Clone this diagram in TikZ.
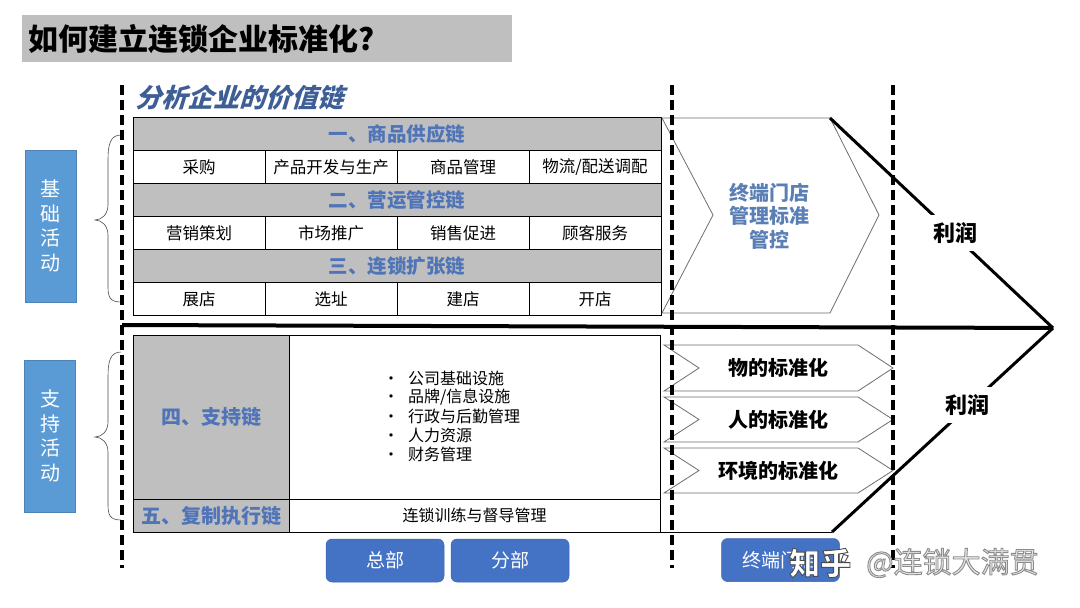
\documentclass[tikz,border=0pt]{standalone}
\usepackage{fontspec}
\setmainfont{Noto Sans CJK SC}
\newfontfamily\slantfont[FakeSlant=0.3]{Noto Sans CJK SC}
\definecolor{titlegray}{HTML}{BFBFBF}
\definecolor{headgray}{HTML}{BFBFBF}
\definecolor{headblue}{HTML}{4F74B8}
\definecolor{subblue}{HTML}{3E5E96}
\definecolor{chevblue}{HTML}{5A7FB5}
\definecolor{sideblue}{HTML}{5B9BD5}
\definecolor{btnblue}{HTML}{4472C4}
\definecolor{chevgray}{HTML}{6E6E6E}
\newcommand\outlinetext[2]{\special{pdf:literal direct 2 Tr 0.9 w #1 G}#2\special{pdf:literal direct 0 Tr}}
\tikzset{
  cell/.style={draw=black, line width=0.9pt, fill=white, minimum width=132pt, minimum height=33pt, inner sep=0pt, outer sep=0pt, font=\fontsize{16.5}{19}\selectfont},
  head/.style={draw=black, line width=0.9pt, fill=headgray, minimum width=528pt, minimum height=33pt, inner sep=0pt, outer sep=0pt, text=headblue, font=\bfseries\fontsize{19.5}{22}\selectfont},
  sidebox/.style={fill=sideblue, draw=sideblue!85!black, line width=0.6pt, minimum width=51pt, minimum height=152pt, inner sep=0pt, text=white, align=center, font=\fontsize{20}{24.5}\selectfont},
  button/.style={fill=btnblue, draw=btnblue!90!black, line width=0.5pt, rounded corners=6pt, minimum width=118pt, minimum height=43pt, inner sep=0pt, text=white, font=\fontsize{19}{22}\selectfont},
  vdash/.style={line width=3.2pt, dash pattern=on 10pt off 5pt},
  chev/.style={draw=chevgray, line width=0.8pt, fill=white},
  chevtxt/.style={font=\bfseries\fontsize{20}{23}\selectfont, text=black},
  profitline/.style={line width=3pt},
  profitlbl/.style={fill=white, inner sep=7pt, font=\bfseries\fontsize{22}{24}\selectfont},
  bul/.style={anchor=west, inner sep=0pt, font=\fontsize{16}{18}\selectfont},
  brace/.style={draw=black!70, line width=0.6pt},
}
\begin{document}
\begin{tikzpicture}[x=1pt,y=-1pt]
\useasboundingbox (0,0) rectangle (1080,608);
\fill[white] (0,0) rectangle (1080,608);

% title
\node[fill=titlegray, minimum width=490pt, minimum height=47pt, inner sep=0pt, anchor=north west] (titlebar) at (22,15) {};
\node[anchor=west, inner sep=0pt, font=\bfseries\fontsize{30}{34}\selectfont] (title) at (28,39) {如何建立连锁企业标准化?};

% subtitle
\node[anchor=west, inner sep=0pt, text=subblue, font=\slantfont\bfseries\fontsize{26}{30}\selectfont] (sub) at (135,98) {分析企业的价值链};

% side boxes
\node[sidebox] (jc) at (50.5,226) {基\\础\\活\\动};
\node[sidebox] (zc) at (50,436) {支\\持\\活\\动};

% braces
\draw[brace] (121,135) .. controls (110,135) and (108,145) .. (108,160) -- (108,205) .. controls (108,214) and (102,220) .. (95,220) .. controls (102,220) and (108,226) .. (108,235) -- (108,287) .. controls (108,297) and (110,302) .. (121,302);
\draw[brace] (121,352) .. controls (110,352) and (108,362) .. (108,377) -- (108,422) .. controls (108,431) and (102,437) .. (95,437) .. controls (102,437) and (108,443) .. (108,452) -- (108,505) .. controls (108,515) and (110,520) .. (121,520);

% value chain table
\node[head] (h1) at (397,134) {一、商品供应链};
\node[cell] (r1c1) at (199,167) {采购};
\node[cell] (r1c2) at (331,167) {产品开发与生产};
\node[cell] (r1c3) at (463,167) {商品管理};
\node[cell] (r1c4) at (595,167) {物流/配送调配};
\node[head] (h2) at (397,200) {二、营运管控链};
\node[cell] (r2c1) at (199,233) {营销策划};
\node[cell] (r2c2) at (331,233) {市场推广};
\node[cell] (r2c3) at (463,233) {销售促进};
\node[cell] (r2c4) at (595,233) {顾客服务};
\node[head] (h3) at (397,266) {三、连锁扩张链};
\node[cell] (r3c1) at (199,299) {展店};
\node[cell] (r3c2) at (331,299) {选址};
\node[cell] (r3c3) at (463,299) {建店};
\node[cell] (r3c4) at (595,299) {开店};

% big chevron
\draw[chev] (662,118) -- (830,118) -- (879,215) -- (830,313) -- (662,313) -- (713,215) -- cycle;
\coordinate (ctop) at (830,118);
\node[align=center, text=chevblue, font=\bfseries\fontsize{20}{23.5}\selectfont] (bigtxt) at (769,216) {终端门店\\管理标准\\管控};

% support table
\node[draw=black, line width=0.9pt, fill=headgray, minimum width=156pt, minimum height=164pt, inner sep=0pt, outer sep=0pt, anchor=north west, text=headblue, font=\bfseries\fontsize{20}{23}\selectfont] (s4) at (133,335) {四、支持链};
\node[draw=black, line width=0.9pt, fill=white, minimum width=371pt, minimum height=164pt, inner sep=0pt, outer sep=0pt, anchor=north west] (s4r) at (289,335) {};
\node[draw=black, line width=0.9pt, fill=headgray, minimum width=156pt, minimum height=33pt, inner sep=0pt, outer sep=0pt, anchor=north west, text=headblue, font=\bfseries\fontsize{20}{23}\selectfont] (s5) at (133,499) {五、复制执行链};
\node[draw=black, line width=0.9pt, fill=white, minimum width=371pt, minimum height=33pt, inner sep=0pt, outer sep=0pt, anchor=north west, font=\fontsize{16}{18}\selectfont] (s5r) at (289,499) {连锁训练与督导管理};

\node[bul] (b1) at (383,378) {\makebox[25pt][l]{•}公司基础设施};
\node[bul] (b2) at (383,397) {\makebox[25pt][l]{•}品牌/信息设施};
\node[bul] (b3) at (383,416) {\makebox[25pt][l]{•}行政与后勤管理};
\node[bul] (b4) at (383,435) {\makebox[25pt][l]{•}人力资源};
\node[bul] (b5) at (383,454) {\makebox[25pt][l]{•}财务管理};

% small chevrons
\draw[chev] (664,345) -- (858,345) -- (893,368) -- (858,391) -- (664,391) -- (699,368) -- cycle;
\draw[chev] (664,397) -- (858,397) -- (893,419.5) -- (858,442) -- (664,442) -- (699,419.5) -- cycle;
\draw[chev] (664,448) -- (858,448) -- (893,470.5) -- (858,493) -- (664,493) -- (699,470.5) -- cycle;
\node[chevtxt] (t1) at (778,368) {物的标准化};
\node[chevtxt] (t2) at (778,419.5) {人的标准化};
\node[chevtxt] (t3) at (778,470.5) {环境的标准化};

% profit lines
\coordinate (apex) at (1053,328);
\coordinate (lowend) at (832,532);
\draw[line width=4pt] (122,325) -- (apex);
\draw[profitline] (ctop) -- (apex);
\draw[profitline] (apex) -- (lowend);
\draw[line width=0.9pt] (s5r.south east) -- (lowend);
\node[profitlbl] (p1) at (955,233) {利润};
\node[profitlbl] (p2) at (967,405) {利润};

% dashed verticals
\draw[vdash] (122,85) -- (122,568);
\draw[vdash] (672,85) -- (672,568);
\draw[vdash] (893,85) -- (893,568);

% buttons
\node[button] (zb) at (385,560.5) {总部};
\node[button] (fb) at (510,560.5) {分部};
\node[button] (zd) at (780.5,560) {终端门店};

% watermark
\node[anchor=west, inner sep=0pt, text=white, font=\bfseries\fontsize{31}{34}\selectfont] (wm1) at (789,563) {\outlinetext{0.3}{知乎}};
\node[anchor=west, inner sep=0pt, text=black!10, font=\fontsize{29}{34}\selectfont] (wm2) at (866,563) {\outlinetext{0.55}{@连锁大满贯}};
\end{tikzpicture}
\end{document}
